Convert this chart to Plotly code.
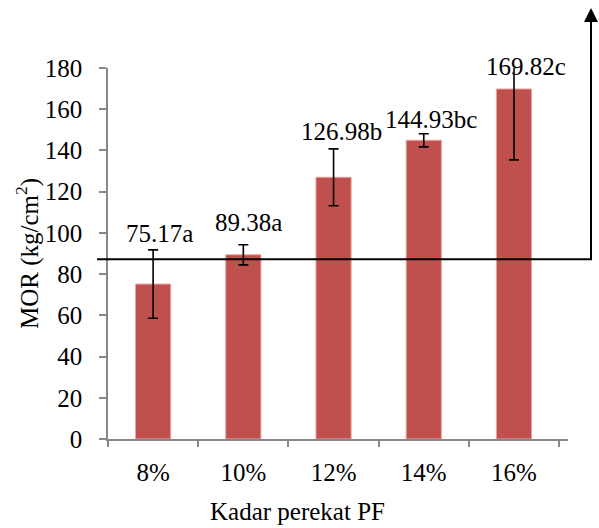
import plotly.graph_objects as go

categories = ["8%", "10%", "12%", "14%", "16%"]
mor_values = [75.17, 89.38, 126.98, 144.93, 169.82]
error_values = [16.6, 4.9, 13.8, 3.2, 34.4]
value_labels = ["75.17a", "89.38a", "126.98b", "144.93bc", "169.82c"]
reference_line = 87.2
y_ticks = [0, 20, 40, 60, 80, 100, 120, 140, 160, 180]
Y_MAX = 180

FONT = "Liberation Serif, Times New Roman, serif"
W, H = 599, 528
L, R, T, B = 108, 31, 68, 89
PW, PH = W - L - R, H - T - B

fig = go.Figure()
fig.add_trace(go.Bar(
    x=categories, y=mor_values,
    marker=dict(color="#C0504D", line=dict(color="#E8A3A1", width=1)),
    error_y=dict(type="data", array=error_values, visible=True,
                 color="black", thickness=1.6, width=5),
    showlegend=False,
))

label_y = [99.5, 104.8, 149, 155, 180.5]
label_dx = [6, 5, 8, 7, 12]
for c, t, yy, dx in zip(categories, value_labels, label_y, label_dx):
    fig.add_annotation(x=c, xref="x", y=yy / Y_MAX, yref="paper", text=t,
                       showarrow=False, xshift=dx, yanchor="middle",
                       font=dict(family=FONT, size=25, color="black"))

def px_x(sx):  # screen x -> paper x
    return (sx - L) / PW

def px_y(sy):  # screen y -> paper y
    return (H - B - sy) / PH

fig.add_shape(type="line", xref="paper", yref="y", x0=px_x(97), x1=px_x(592),
              y0=reference_line, y1=reference_line,
              line=dict(color="black", width=2))
fig.add_shape(type="line", xref="paper", yref="paper", x0=px_x(591), x1=px_x(591),
              y0=px_y(259), y1=px_y(30), line=dict(color="black", width=2))
fig.add_annotation(xref="paper", yref="paper", x=px_x(591), y=px_y(8),
                   ax=0, ay=30, showarrow=True, arrowhead=2, arrowsize=1.4,
                   arrowwidth=2, arrowcolor="black", text=" ", standoff=0,
                   font=dict(size=1))

fig.add_annotation(xref="paper", yref="paper", x=px_x(297), y=px_y(511),
                   text="Kadar perekat PF", showarrow=False, yanchor="middle",
                   font=dict(family=FONT, size=25, color="black"))
fig.add_annotation(xref="paper", yref="paper", x=px_x(27), y=px_y(254),
                   text="MOR (kg/cm<sup>2</sup>)", showarrow=False, textangle=-90,
                   xanchor="center", yanchor="middle",
                   font=dict(family=FONT, size=25, color="black"))

fig.update_layout(
    width=W, height=H,
    margin=dict(l=L, r=R, t=T, b=B),
    paper_bgcolor="white", plot_bgcolor="white",
    bargap=0.61,
    font=dict(family=FONT, size=25, color="black"),
    xaxis=dict(type="category", showline=True, linecolor="#888888", linewidth=1.5,
               ticks="outside", tickson="boundaries", ticklen=6, tickcolor="#888888",
               tickwidth=1.5, ticklabelstandoff=10, showgrid=False,
               tickfont=dict(family=FONT, size=25, color="black")),
    yaxis=dict(range=[0, Y_MAX], tickvals=y_ticks, showline=True, linecolor="#888888",
               linewidth=1.5, ticks="outside", ticklen=7, tickcolor="#888888",
               tickwidth=1.5, ticklabelstandoff=12, showgrid=False, zeroline=False,
               tickfont=dict(family=FONT, size=25, color="black")),
)

fig.write_html("out.html", config={"displayModeBar": False},
               post_script="document.body.style.margin='0';document.body.style.overflow='hidden';")
